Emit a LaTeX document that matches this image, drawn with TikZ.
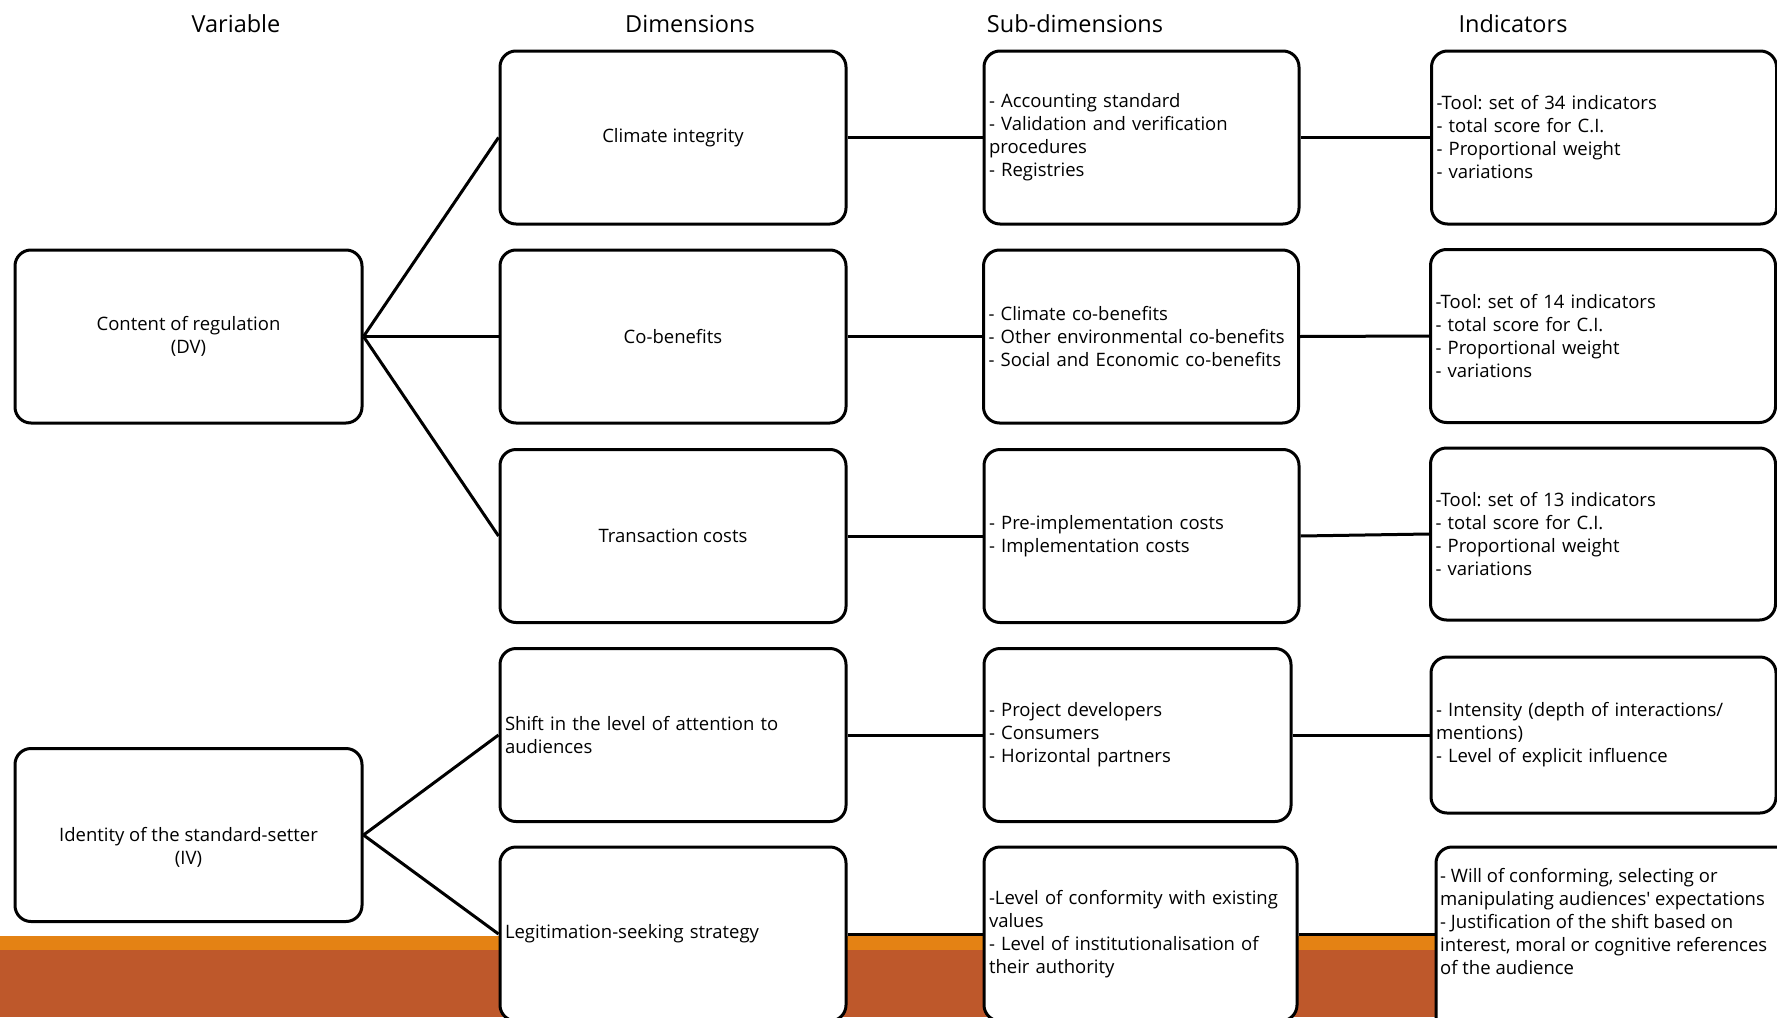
\documentclass[tikz,border=0pt]{standalone}
\usepackage{fontspec}
\setmainfont{Open Sans}
\usepackage{tikz}
\usetikzlibrary{positioning}
\definecolor{bandlight}{RGB}{228,130,20}
\definecolor{banddark}{RGB}{190,88,43}
\frenchspacing

\begin{document}
\begin{tikzpicture}[
  x=1pt, y=-1pt,
  box/.style={
    draw, line width=3pt, rounded corners=16pt, fill=white,
    inner sep=5pt, font=\fontsize{18.5}{23}\selectfont
  },
  varbox/.style={box, minimum width=347pt, minimum height=173pt, align=center},
  dimbox/.style={box, minimum width=346pt, minimum height=173pt, align=center},
  dimleft/.style={box, text width=336pt, minimum height=173pt, align=left},
  subbox/.style={box, text width=#1, minimum height=173pt, align=left},
  indbox/.style={box, text width=335pt, minimum height=173pt, align=left},
  header/.style={font=\fontsize{23.5}{28}\selectfont},
  link/.style={line width=3pt}
]
\useasboundingbox (0,0) rectangle (1777,1017);
\clip (0,0) rectangle (1777,1017);
\fill[white] (0,0) rectangle (1777,1017);

% bottom band
\fill[bandlight] (0,936) rectangle (1777,950);
\fill[banddark] (0,950) rectangle (1777,1017);

% column headers
\node[header] (hvar) at (236,24) {Variable};
\node[header] (hdim) at (690,24) {Dimensions};
\node[header] (hsub) at (1075,24) {Sub-dimensions};
\node[header] (hind) at (1513,24) {Indicators};

% variables
\node[varbox] (v1) at (188.5,336.5) {Content of regulation\\(DV)};
\node[varbox] (v2) at (188.5,835) {\rule{0pt}{38pt}Identity of the standard-setter\\(IV)};

% dimensions
\node[dimbox] (d1) at (673,137.5) {Climate integrity};
\node[dimbox] (d2) at (673,336.5) {Co-benefits};
\node[dimbox] (d3) at (673,536) {Transaction costs};
\node[dimleft] (d4) at (673,735) {Shift in the level of attention to\\audiences};
\node[dimleft, minimum height=174pt] (d5) at (673,934) {Legitimation-seeking strategy};

% sub-dimensions
\node[subbox=305pt] (s1) at (1141.5,137.5) {- Accounting standard\\- Validation and verification\\procedures\\- Registries};
\node[subbox=305pt] (s2) at (1141,336.5) {- Climate co-benefits\\- Other environmental co-benefits\\- Social and Economic co-benefits};
\node[subbox=305pt] (s3) at (1141.5,536) {- Pre-implementation costs\\- Implementation costs};
\node[subbox=297pt] (s4) at (1137.5,735) {- Project developers\\- Consumers\\- Horizontal partners};
\node[subbox=303pt, minimum height=174pt] (s5) at (1140.5,934) {-Level of conformity with existing\\values\\- Level of institutionalisation of\\their authority};

% indicators
\node[indbox] (i1) at (1604,137.5) {-Tool: set of 34 indicators\\- total score for C.I.\\- Proportional weight\\- variations};
\node[indbox] (i2) at (1603,336) {-Tool: set of 14 indicators\\- total score for C.I.\\- Proportional weight\\- variations};
\node[indbox, minimum height=172pt] (i3) at (1603,534) {-Tool: set of 13 indicators\\- total score for C.I.\\- Proportional weight\\- variations};
\node[indbox, minimum height=156pt] (i4) at (1603.5,735) {- Intensity (depth of interactions/\\mentions)\\- Level of explicit influence};
\node[box, minimum width=400pt, minimum height=200pt] (i5) at (1636,947) {};
\node[font=\fontsize{18.5}{23}\selectfont, align=left, anchor=west, inner sep=0pt] (i5t) at (1440,921)
  {- Will of conforming, selecting or\\manipulating audiences\textquotesingle\ expectations\\- Justification of the shift based on\\interest, moral or cognitive references\\of the audience};

% connectors
\draw[link] (v1.east) -- (d1.west);
\draw[link] (v1.east) -- (d2.west);
\draw[link] (v1.east) -- (d3.west);
\draw[link] (v2.east) -- (d4.west);
\draw[link] (v2.east) -- (d5.west);
\draw[link] (d1.east) -- (s1.west);
\draw[link] (d2.east) -- (s2.west);
\draw[link] (d3.east) -- (s3.west);
\draw[link] (d4.east) -- (s4.west);
\draw[link] (d5.east) -- (s5.west);
\draw[link] (s1.east) -- (i1.west);
\draw[link] (s2.east) -- (i2.west);
\draw[link] (s3.east) -- (i3.west);
\draw[link] (s4.east) -- (i4.west);
\draw[link] (s5.east) -- (s5.east -| i5.west);
\end{tikzpicture}
\end{document}
